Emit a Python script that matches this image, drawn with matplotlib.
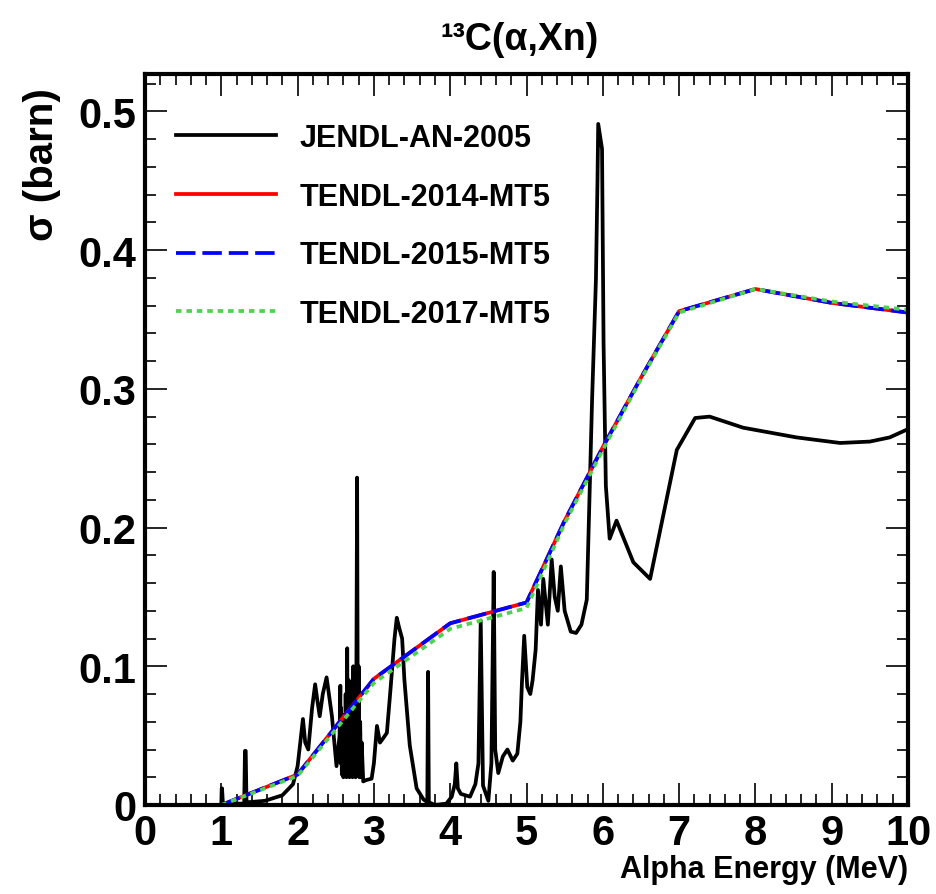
import matplotlib
matplotlib.use('Agg')
import matplotlib.pyplot as plt
from matplotlib.ticker import MultipleLocator, FuncFormatter

# JENDL-AN-2005 (resonance structure)
jendl_e = [1.00, 1.005, 1.01, 1.02, 1.05, 1.30, 1.31, 1.32, 1.33, 1.35, 1.57, 1.80, 1.94, 2.00,
           2.07, 2.10, 2.14, 2.19, 2.23, 2.26, 2.29, 2.33, 2.38, 2.45, 2.51, 2.55,
           2.56, 2.565, 2.57, 2.58, 2.59, 2.60, 2.61, 2.62, 2.63, 2.64, 2.65, 2.66, 2.67, 2.68,
           2.69, 2.70, 2.71, 2.72, 2.73, 2.74, 2.75, 2.76, 2.77, 2.78, 2.79, 2.80, 2.81, 2.82,
           2.83, 2.84, 2.86, 2.90, 2.97, 3.00, 3.04, 3.08,
           3.12, 3.17, 3.22, 3.27, 3.30, 3.33, 3.37, 3.40, 3.47, 3.56, 3.65, 3.70, 3.71, 3.72,
           3.80, 3.95, 4.02, 4.06, 4.08, 4.10, 4.14, 4.26, 4.33, 4.37, 4.40, 4.43, 4.50, 4.54,
           4.57, 4.59, 4.63, 4.69, 4.75, 4.82, 4.88, 4.92, 4.94, 4.97, 5.01, 5.05, 5.08, 5.12,
           5.15, 5.19, 5.22, 5.28, 5.33, 5.37, 5.41, 5.45, 5.50, 5.58, 5.65, 5.72, 5.79, 5.86,
           5.91, 5.93, 5.94, 5.99, 6.01, 6.04, 6.09, 6.18, 6.40, 6.62, 6.97, 7.21, 7.40, 7.84,
           8.54, 9.11, 9.50, 9.76, 10.00]
jendl_xs = [0.0, 0.012, 0.012, 0.002, 0.001, 0.001, 0.039, 0.039, 0.003, 0.002, 0.003, 0.007, 0.015, 0.028,
            0.062, 0.045, 0.040, 0.070, 0.087, 0.075, 0.064, 0.080, 0.092, 0.064, 0.028, 0.050,
            0.086, 0.030, 0.070, 0.022, 0.065, 0.020, 0.060, 0.024, 0.080, 0.020, 0.113, 0.025, 0.090, 0.020,
            0.070, 0.022, 0.075, 0.020, 0.100, 0.025, 0.085, 0.020, 0.090, 0.236, 0.030, 0.100, 0.020, 0.060,
            0.020, 0.045, 0.017, 0.018, 0.019, 0.030, 0.057, 0.045,
            0.048, 0.052, 0.085, 0.120, 0.135, 0.128, 0.120, 0.090, 0.043, 0.012, 0.004, 0.002, 0.096, 0.002,
            0.000, 0.001, 0.006, 0.015, 0.030, 0.012, 0.008, 0.006, 0.015, 0.030, 0.133, 0.014, 0.003, 0.030,
            0.168, 0.040, 0.023, 0.035, 0.040, 0.032, 0.037, 0.060, 0.088, 0.122, 0.085, 0.080, 0.090, 0.112,
            0.155, 0.130, 0.163, 0.130, 0.177, 0.150, 0.140, 0.172, 0.140, 0.125, 0.124, 0.130, 0.148, 0.293,
            0.379, 0.449, 0.491, 0.473, 0.333, 0.230, 0.192, 0.205, 0.175, 0.163, 0.256, 0.279, 0.280, 0.272,
            0.265, 0.261, 0.262, 0.265, 0.271]

# TENDL evaluations (MT5)
tendl_e = [1.0, 2.0, 3.0, 4.0, 5.0, 5.5, 6.0, 6.5, 7.0, 8.0, 9.0, 10.0]
tendl2014_xs = [0.0, 0.022, 0.091, 0.131, 0.146, 0.205, 0.258, 0.308, 0.356, 0.372, 0.362, 0.355]
tendl2015_xs = [0.0, 0.022, 0.091, 0.131, 0.146, 0.205, 0.258, 0.308, 0.356, 0.372, 0.362, 0.355]
tendl2017_xs = [0.0, 0.021, 0.088, 0.127, 0.142, 0.203, 0.256, 0.307, 0.355, 0.372, 0.363, 0.357]

labels = ['JENDL-AN-2005', 'TENDL-2014-MT5', 'TENDL-2015-MT5', 'TENDL-2017-MT5']

plt.rcParams['font.family'] = ['Liberation Sans', 'DejaVu Sans']
plt.rcParams['font.weight'] = 'bold'
plt.rcParams['lines.scale_dashes'] = False

fig = plt.figure(figsize=(9.37, 8.95), dpi=100)
ax = fig.add_axes([145 / 937, 89 / 895, 763 / 937, 731 / 895])

ax.plot(jendl_e, jendl_xs, color='black', lw=2.7, label=labels[0])
ax.plot(tendl_e, tendl2014_xs, color='#ff0000', lw=2.7, label=labels[1])
ax.plot(tendl_e, tendl2015_xs, color='#0000ff', lw=2.7, dashes=(14, 5), label=labels[2])
ax.plot(tendl_e, tendl2017_xs, color='#4fd34f', lw=2.7, dashes=(4, 3.5), label=labels[3])

ax.set_xlim(0, 10)
ax.set_ylim(0, 0.527)
ax.xaxis.set_major_locator(MultipleLocator(1))
ax.xaxis.set_minor_locator(MultipleLocator(0.2))
ax.yaxis.set_major_locator(MultipleLocator(0.1))
ax.yaxis.set_minor_locator(MultipleLocator(0.02))
ax.yaxis.set_major_formatter(FuncFormatter(lambda v, p: '0' if abs(v) < 1e-9 else '%.1f' % v))

ax.tick_params(which='both', direction='in', top=True, right=True, width=1.2)
ax.tick_params(which='major', length=16, labelsize=30, pad=6)
ax.tick_params(which='minor', length=8)
for s in ax.spines.values():
    s.set_linewidth(3)

leg = ax.legend(loc='upper left', bbox_to_anchor=(0.04, 0.933), frameon=False,
                fontsize=22, handlelength=3.3, handletextpad=0.75, labelspacing=0.94,
                borderaxespad=0, borderpad=0)

fig.text(520 / 937, 1 - 40 / 895, '¹³C(α,Xn)', ha='center', va='center', fontsize=27)
fig.text(908 / 937, 1 - 870 / 895, 'Alpha Energy (MeV)', ha='right', va='center', fontsize=22)
fig.text(42 / 937, 1 - 88 / 895, 'σ (barn)', ha='center', va='top', rotation=90, fontsize=29)

fig.savefig('out.png', dpi=100)
